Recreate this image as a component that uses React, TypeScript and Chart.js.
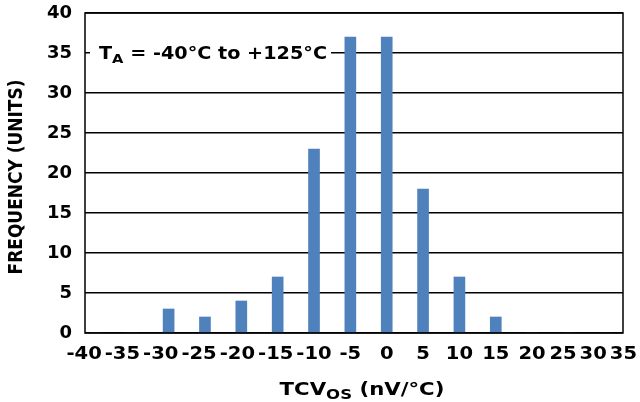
import { useEffect, useRef } from 'react';
import { Chart, registerables } from 'chart.js';
Chart.register(...registerables);

// ---- data ----
const xValues = [-40, -35, -30, -25, -20, -15, -10, -5, 0, 5, 10, 15, 20, 25, 30, 35];
const frequency = [0, 0, 3, 2, 4, 7, 23, 37, 37, 18, 7, 2, 0, 0, 0, 0];
const xTickLabels = ['-40', '-35', '-30', '-25', '-20', '-15', '-10', '-5', '0', '5', '10', '15', '20', '25', '30', '35'];
const yTickStep = 5;
const yMax = 40;
const yTitle = 'FREQUENCY (UNITS)';
const xTitleParts = [
  { text: 'TCV', sub: false },
  { text: 'OS', sub: true },
  { text: ' (nV/°C)', sub: false },
];
const noteParts = [
  { text: 'T', sub: false },
  { text: 'A', sub: true },
  { text: ' = -40°C to +125°C', sub: false },
];

const FAMILY = '"DejaVu Sans", Verdana, sans-serif';
const BAR_COLOR = '#4F81BD';

type Part = { text: string; sub: boolean };

function drawRich(
  ctx: CanvasRenderingContext2D,
  parts: Part[],
  x: number,
  y: number,
  align: 'left' | 'center',
  sx: number,
  mainSize: number,
  subSize: number,
  subDy: number
): number {
  ctx.save();
  const mainFont = `bold ${mainSize}px ${FAMILY}`;
  const subFont = `bold ${subSize}px ${FAMILY}`;
  const widths = parts.map((p) => {
    ctx.font = p.sub ? subFont : mainFont;
    return ctx.measureText(p.text).width;
  });
  const total = widths.reduce((a, b) => a + b, 0);
  ctx.translate(x, y);
  ctx.scale(sx, 1);
  ctx.fillStyle = '#000';
  ctx.textAlign = 'left';
  ctx.textBaseline = 'alphabetic';
  let cx = align === 'center' ? -total / 2 : 0;
  parts.forEach((p, i) => {
    ctx.font = p.sub ? subFont : mainFont;
    ctx.fillText(p.text, cx, p.sub ? subDy : 0);
    cx += widths[i];
  });
  ctx.restore();
  return total * sx;
}

function measureRich(ctx: CanvasRenderingContext2D, parts: Part[], sx: number, mainSize: number, subSize: number) {
  ctx.save();
  let total = 0;
  parts.forEach((p) => {
    ctx.font = `bold ${p.sub ? subSize : mainSize}px ${FAMILY}`;
    total += ctx.measureText(p.text).width;
  });
  ctx.restore();
  return total * sx;
}

const decorPlugin = {
  id: 'decor',
  afterDatasetsDraw(chart: any) {
    const { ctx, chartArea } = chart;
    ctx.save();
    ctx.strokeStyle = '#000';
    ctx.lineWidth = 1.5;
    ctx.strokeRect(chartArea.left, chartArea.top, chartArea.right - chartArea.left, chartArea.bottom - chartArea.top);
    ctx.restore();
  },
  afterDraw(chart: any) {
    const { ctx, chartArea } = chart;
    const xScale = chart.scales.x;
    const SX = 1.15;

    // annotation with white box
    const noteX = chartArea.left + 14;
    const noteY = chartArea.top + 46;
    const noteW = measureRich(ctx, noteParts, 1.13, 17, 13);
    ctx.save();
    ctx.fillStyle = '#fff';
    ctx.fillRect(noteX - 9, noteY - 19, noteW + 13, 27);
    ctx.restore();
    drawRich(ctx, noteParts, noteX, noteY, 'left', 1.13, 17, 13, 4);

    // x tick labels (pushed left to stay inside the canvas, like the original)
    ctx.save();
    ctx.font = `bold 17px ${FAMILY}`;
    const widths = xTickLabels.map((t) => ctx.measureText(t).width * SX);
    const centers: number[] = new Array(xTickLabels.length);
    let limit = chart.width - 3;
    for (let i = xTickLabels.length - 1; i >= 0; i--) {
      const px = xScale.getPixelForValue(xValues[i]);
      const right = Math.min(px + widths[i] / 2, limit);
      centers[i] = right - widths[i] / 2;
      limit = right - widths[i] - 3;
    }
    ctx.fillStyle = '#000';
    ctx.textAlign = 'center';
    ctx.textBaseline = 'alphabetic';
    const labelY = chartArea.bottom + 26;
    xTickLabels.forEach((t, i) => {
      ctx.save();
      ctx.translate(centers[i], labelY);
      ctx.scale(SX, 1);
      ctx.fillText(t, 0, 0);
      ctx.restore();
    });
    ctx.restore();

    // x axis title
    drawRich(ctx, xTitleParts, (chartArea.left + chartArea.right) / 2 + 8, chartArea.bottom + 62, 'center', 1.18, 18, 14, 4);

    // y axis title
    ctx.save();
    ctx.translate(16.5, (chartArea.top + chartArea.bottom) / 2 + 4);
    ctx.rotate(-Math.PI / 2);
    ctx.scale(1, 1.15);
    ctx.font = `bold 17px ${FAMILY}`;
    ctx.fillStyle = '#000';
    ctx.textAlign = 'center';
    ctx.textBaseline = 'middle';
    ctx.fillText(yTitle, 0, 0);
    ctx.restore();
  },
};

export default function App() {
  const ref = useRef<HTMLCanvasElement>(null);
  useEffect(() => {
    document.body.style.margin = '0';
    const chart = new Chart(ref.current as HTMLCanvasElement, {
      type: 'bar',
      data: {
        datasets: [
          {
            data: xValues.map((x, i) => ({ x, y: frequency[i] })),
            backgroundColor: BAR_COLOR,
            borderWidth: 0,
            barThickness: 11,
          },
        ],
      },
      options: {
        responsive: true,
        maintainAspectRatio: false,
        animation: false,
        layout: { padding: { top: 13, right: 17, left: 0, bottom: 0 } },
        plugins: { legend: { display: false }, tooltip: { enabled: false } },
        scales: {
          x: {
            type: 'linear',
            offset: false,
            min: -41.5,
            max: 32.5,
            grid: { display: false, offset: false },
            border: { display: false },
            ticks: { display: false },
            afterFit: (s: any) => {
              s.height = 69;
              s.paddingLeft = 0;
              s.paddingRight = 0;
            },
          },
          y: {
            min: 0,
            max: yMax,
            ticks: {
              stepSize: yTickStep,
              color: '#000',
              font: { family: FAMILY, size: 18, weight: 'bold' },
              padding: 13,
            },
            grid: { color: '#000', lineWidth: 1.5, drawTicks: false },
            border: { display: false },
            afterFit: (s: any) => {
              s.width = 85;
              s.paddingTop = 0;
              s.paddingBottom = 0;
            },
          },
        },
      } as any,
      plugins: [decorPlugin],
    });
    return () => chart.destroy();
  }, []);
  return (
    <div style={{ position: 'absolute', left: 0, top: 0, width: 640, height: 402 }}>
      <canvas ref={ref} />
    </div>
  );
}
